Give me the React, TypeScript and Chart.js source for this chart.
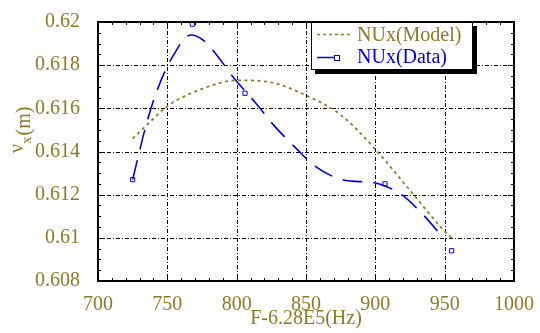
import React, { useEffect, useRef } from "react";
import { Chart, registerables } from "chart.js";

Chart.register(...registerables);

// ---- data ----
const xTicks = [700, 750, 800, 850, 900, 950, 1000];
const yTicks = [0.608, 0.61, 0.612, 0.614, 0.616, 0.618, 0.62];

const modelX = [725, 738, 750, 775, 800, 825, 850, 875, 900, 925, 950, 955];
const modelY = [0.6146, 0.6154, 0.6161, 0.6169, 0.6173, 0.6172, 0.6166, 0.6157, 0.6141, 0.6122, 0.6103, 0.61];

const dataCurveX = [725, 735, 743, 753, 767, 775, 784, 798, 813, 827, 842, 857, 876, 899, 907, 919, 934, 949];
const dataCurveY = [0.6127, 0.6153, 0.6169, 0.6183, 0.6194, 0.6192, 0.6186, 0.6174, 0.6163, 0.6152, 0.6142, 0.6133, 0.6127, 0.61255, 0.6124, 0.612, 0.6111, 0.61];

const dataX = [725, 768, 806, 907, 955];
const dataY = [0.6127, 0.6199, 0.6167, 0.6125, 0.6094];

const seriesNames = ["NUx(Model)", "NUx(Data)"];
const xTitle = "F-6.28E5(Hz)";

const OLIVE = "#8c7b24";
const BLUE = "#0000ee";
const FONT = "'Liberation Serif', 'Times New Roman', serif";

const xMinorStep = 10;
const yMinorStep = 0.0005;

const decoPlugin = {
  id: "deco",
  beforeDatasetsDraw(chart: any) {
    const { ctx, chartArea: a, scales } = chart;
    const x = scales.x, y = scales.y;
    ctx.save();
    ctx.strokeStyle = "#000";
    ctx.lineWidth = 1;
    ctx.setLineDash([4, 2, 1, 2]);
    for (const v of xTicks.slice(1, -1)) {
      const px = Math.round(x.getPixelForValue(v)) + 0.5;
      ctx.beginPath(); ctx.moveTo(px, a.top); ctx.lineTo(px, a.bottom); ctx.stroke();
    }
    for (const v of yTicks.slice(1, -1)) {
      const py = Math.round(y.getPixelForValue(v)) + 0.5;
      ctx.beginPath(); ctx.moveTo(a.left, py); ctx.lineTo(a.right, py); ctx.stroke();
    }
    ctx.restore();
  },
  afterDatasetsDraw(chart: any) {
    const { ctx, chartArea: a, scales } = chart;
    const x = scales.x, y = scales.y;
    ctx.save();
    ctx.setLineDash([]);
    ctx.strokeStyle = "#000";
    ctx.lineWidth = 1;
    const nx = Math.round((xTicks[xTicks.length - 1] - xTicks[0]) / xMinorStep);
    for (let i = 0; i <= nx; i++) {
      const v = xTicks[0] + i * xMinorStep;
      const px = Math.round(x.getPixelForValue(v)) + 0.5;
      const len = i % 5 === 0 ? 6 : 3;
      ctx.beginPath();
      ctx.moveTo(px, a.bottom); ctx.lineTo(px, a.bottom - len);
      ctx.moveTo(px, a.top); ctx.lineTo(px, a.top + len);
      ctx.stroke();
    }
    const ny = Math.round((yTicks[yTicks.length - 1] - yTicks[0]) / yMinorStep);
    for (let i = 0; i <= ny; i++) {
      const v = yTicks[0] + i * yMinorStep;
      const py = Math.round(y.getPixelForValue(v)) + 0.5;
      const len = i % 4 === 0 ? 6 : 3;
      ctx.beginPath();
      ctx.moveTo(a.left, py); ctx.lineTo(a.left + len, py);
      ctx.moveTo(a.right, py); ctx.lineTo(a.right - len, py);
      ctx.stroke();
    }
    ctx.lineWidth = 2;
    ctx.strokeRect(a.left, a.top, a.right - a.left, a.bottom - a.top);
    ctx.restore();
  },
  afterDraw(chart: any) {
    const { ctx } = chart;
    ctx.save();
    // legend
    const bx = 311, by = 22, bw = 162, bh = 48;
    ctx.fillStyle = "#000";
    ctx.fillRect(bx + 4, by + 4, bw, bh);
    ctx.fillStyle = "#fff";
    ctx.fillRect(bx, by, bw, bh);
    ctx.strokeStyle = "#000";
    ctx.lineWidth = 1;
    ctx.strokeRect(bx + 0.5, by + 0.5, bw - 1, bh - 1);
    ctx.font = `20px ${FONT}`;
    ctx.textBaseline = "middle";
    ctx.textAlign = "left";
    // model entry
    ctx.strokeStyle = OLIVE;
    ctx.lineWidth = 1.5;
    ctx.setLineDash([3, 3]);
    ctx.beginPath(); ctx.moveTo(317, 34.5); ctx.lineTo(350, 34.5); ctx.stroke();
    ctx.setLineDash([]);
    ctx.fillStyle = OLIVE;
    ctx.fillText(seriesNames[0], 357, 36);
    // data entry
    ctx.strokeStyle = BLUE;
    ctx.lineWidth = 1.5;
    ctx.beginPath(); ctx.moveTo(317, 57.5); ctx.lineTo(334, 57.5); ctx.stroke();
    ctx.lineWidth = 1;
    ctx.strokeRect(334.5, 55.5, 5, 5);
    ctx.fillStyle = BLUE;
    ctx.fillText(seriesNames[1], 357, 58);

    // y title: nu_x (m), rotated
    ctx.translate(0, 0);
    ctx.rotate(-Math.PI / 2);
    ctx.fillStyle = OLIVE;
    ctx.textBaseline = "alphabetic";
    ctx.font = `20px ${FONT}`;
    let u = -153;
    ctx.fillText("ν", u, 23);
    u += ctx.measureText("ν").width;
    ctx.font = `15px ${FONT}`;
    ctx.fillText("x", u, 31);
    u += ctx.measureText("x").width + 1;
    ctx.font = `20px ${FONT}`;
    ctx.fillText("(m)", u, 30);
    ctx.restore();
  },
};

export default function App() {
  const ref = useRef<HTMLCanvasElement | null>(null);
  useEffect(() => {
    if (!ref.current) return;
    const chart = new Chart(ref.current, {
      type: "line",
      data: {
        datasets: [
          {
            label: seriesNames[0],
            data: modelX.map((x, i) => ({ x, y: modelY[i] })),
            borderColor: OLIVE,
            borderWidth: 1.8,
            borderDash: [3, 3.5],
            pointRadius: 0,
            cubicInterpolationMode: "monotone",
            fill: false,
          },
          {
            label: seriesNames[1] + " curve",
            data: dataCurveX.map((x, i) => ({ x, y: dataCurveY[i] })),
            borderColor: BLUE,
            borderWidth: 1.6,
            borderDash: [20, 11],
            pointRadius: 0,
            cubicInterpolationMode: "monotone",
            fill: false,
          },
          {
            label: seriesNames[1],
            data: dataX.map((x, i) => ({ x, y: dataY[i] })),
            showLine: false,
            borderColor: BLUE,
            backgroundColor: "rgba(0,0,0,0)",
            borderWidth: 1,
            pointStyle: "rect",
            pointRadius: 3,
          },
        ],
      },
      options: {
        animation: false,
        responsive: false,
        layout: { padding: { top: 14, right: 26, left: 0, bottom: 0 } },
        plugins: { legend: { display: false }, tooltip: { enabled: false } },
        scales: {
          x: {
            type: "linear",
            min: xTicks[0],
            max: xTicks[xTicks.length - 1],
            afterBuildTicks: (s: any) => { s.ticks = xTicks.map((v) => ({ value: v })); },
            afterFit: (s: any) => { s.height = 52; },
            grid: { display: false },
            border: { display: false },
            ticks: {
              color: OLIVE,
              font: { family: FONT, size: 20 },
              padding: 4,
              maxRotation: 0,
              autoSkip: false,
              callback: (v: any) => String(v),
            },
            title: {
              display: true,
              text: xTitle,
              color: OLIVE,
              font: { family: FONT, size: 20 },
              padding: { top: 0, bottom: 2 },
            },
          },
          y: {
            type: "linear",
            min: yTicks[0],
            max: yTicks[yTicks.length - 1],
            afterBuildTicks: (s: any) => { s.ticks = yTicks.map((v) => ({ value: v })); },
            afterFit: (s: any) => { s.width = 98; },
            grid: { display: false },
            border: { display: false },
            ticks: {
              color: OLIVE,
              font: { family: FONT, size: 20 },
              padding: 10,
              autoSkip: false,
              callback: (v: any) => String(+Number(v).toFixed(4)),
            },
          },
        },
      },
      plugins: [decoPlugin],
    } as any);
    return () => chart.destroy();
  }, []);
  return (
    <div style={{ position: "absolute", left: 0, top: 0, width: 540, height: 333, background: "#fff" }}>
      <canvas ref={ref} width={540} height={333} style={{ display: "block" }} />
    </div>
  );
}
